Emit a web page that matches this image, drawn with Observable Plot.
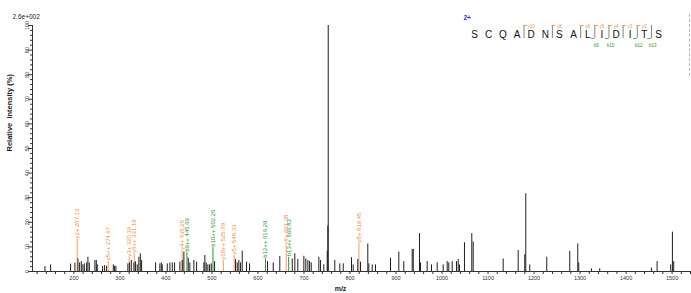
<!DOCTYPE html>
<html><head><meta charset="utf-8">
<script src="https://cdn.jsdelivr.net/npm/d3@7"></script>
<script src="https://cdn.jsdelivr.net/npm/@observablehq/plot@0.6"></script>
<style>
body{margin:0;background:#fff;}
#wrap{position:relative;width:691px;height:293px;font-family:"Liberation Sans",Arial,sans-serif;}
#seq{position:absolute;left:440px;top:0;}
#edge{position:absolute;left:689px;top:14px;height:62px;border-left:1px dashed #b5b5b5;}
svg text{white-space:pre;}
</style></head><body><div id="wrap"><div id="main"></div><div id="seq"></div><div id="edge"></div></div>
<script>
// unannotated peaks (m/z, relative intensity %)
const peakMz = [137.0,149.4,192.8,202.2,208.7,212.4,216.1,219.6,222.6,227.6,230.4,233.5,245.6,248.7,250.8,262.3,266.7,271.0,285.6,288.4,291.2,
  317.3,321.0,324.7,330.4,334.0,337.7,341.2,344.3,347.1,377.5,386.8,389.9,392.0,402.9,408.6,413.8,418.8,430.3,435.5,439.0,448.5,452.0,460.7,
  466.6,482.4,484.6,487.6,491.1,494.8,498.5,505.7,551.3,555.0,558.5,562.2,565.8,575.2,581.7,620.8,633.2,647.5,674.5,680.1,686.6,699.7,704.0,
  708.4,712.1,715.7,732.3,736.0,743.1,750.5,751.8,752.7,767.0,777.9,785.3,803.3,807.0,817.0,822.9,838.7,840.9,848.3,855.4,888.0,906.1,916.9,
  935.2,937.4,951.0,953.2,967.7,977.1,989.5,1002.5,1011.2,1014.7,1022.1,1031.4,1035.1,1037.9,1048.8,1064.7,1067.7,1132.9,1165.5,1179.8,1182.0,
  1190.7,1227.6,1277.6,1295.0,1297.1,1324.7,1342.7,1455.1,1467.4,1497.0,1500.7,1503.5];
const peakInt = [2.0,2.7,3.0,3.4,5.1,3.5,4.0,2.7,3.1,3.5,5.8,3.5,4.5,4.5,2.7,2.1,2.4,2.1,2.7,2.1,2.1,
  3.1,3.5,4.5,3.5,4.0,2.7,5.8,7.2,4.5,3.5,3.1,3.5,2.7,3.1,3.5,3.5,3.5,3.8,4.5,7.9,5.4,3.5,4.5,
  3.8,3.5,6.5,3.5,2.7,2.7,3.1,4.0,4.9,3.5,4.5,3.5,8.2,3.8,3.1,4.0,3.5,6.1,5.1,7.2,4.9,6.2,5.1,
  4.5,4.1,3.5,5.8,4.5,2.7,8.2,18.5,100,4.5,3.1,3.1,5.6,2.7,4.9,3.8,11.2,3.1,2.7,2.7,5.4,7.9,4.0,
  9.0,9.0,15.4,3.5,4.0,2.7,3.5,2.7,4.0,3.5,4.0,4.0,4.9,2.7,11.7,15.4,12.0,5.1,8.5,6.8,31.6,
  2.7,5.8,8.2,11.2,3.5,1.1,1.1,1.4,4.0,2.7,16.0,4.0];

// annotated fragment peaks
const annMz = [207.10,274.65,320.18,331.19,435.21,445.69,502.23,524.76,548.29,616.28,661.38,666.81,819.45];
const annInt = [13.0,4.2,5.6,7.2,8.4,7.6,9.7,4.4,6.5,5.2,10.6,5.8,11.4];
const annLabel = ["y2+ 207.13","y5++ 274.67","y3+ 320.19","y6++ 331.19","y4+ 435.25","b9++ 445.69","b10++ 502.26",
  "y10++ 525.79","y5+ 548.33","b12++ 616.29","y6+ 661.38","b13++ 666.83","y8+ 819.45"];
const annType = ["y","y","y","y","y","b","b","y","y","b","y","b","y"];

// axes
const xTicks = [200,300,400,500,600,700,800,900,1000,1100,1200,1300,1400,1500];
const yTicks = [0,10,20,30,40,50,60,70,80,90,100];

// peptide
const residues = ["S","C","Q","A","D","N","S","A","L","I","D","I","T","S"];
const ySites = [4,6,8,9,10,11,12];
const yNames = ["y10","y8","y6","y5","y4","y3","y2"];
const bSites = [9,10,12,13];
const bNames = ["b9","b10","b12","b13"];

const ORANGE = "#ee8a4e", GREEN = "#2f8f32";
const font = "Liberation Sans, Arial, sans-serif";

const peaks = peakMz.map((mz, i) => ({mz, int: peakInt[i]}));
const ann = annMz.map((mz, i) => ({mz, int: annInt[i], label: annLabel[i], type: annType[i]}));
const annY = ann.filter(d => d.type === "y"), annB = ann.filter(d => d.type === "b");
const xMinor = d3.range(120, 1541, 20).filter(v => v % 100 !== 0);
const yMinor = d3.range(0, 101, 2).filter(v => v % 10 !== 0);

const main = Plot.plot({
  width: 691, height: 293,
  marginLeft: 32, marginRight: 1, marginTop: 25, marginBottom: 22,
  style: {fontFamily: font, background: "white", overflow: "visible"},
  x: {domain: [110, 1540], label: null},
  y: {domain: [0, 100], label: null},
  marks: [
    Plot.ruleX(annY, {x: "mz", y1: 0, y2: "int", stroke: ORANGE, strokeWidth: 1, strokeOpacity: 0.85}),
    Plot.ruleX(annB, {x: "mz", y1: 0, y2: "int", stroke: GREEN, strokeWidth: 1}),
    Plot.ruleX(peaks, {x: "mz", y1: 0, y2: "int", stroke: "#1e1e1e", strokeWidth: 1}),
    Plot.text(annY, {x: "mz", y: "int", text: "label", rotate: -90, textAnchor: "start", lineAnchor: "middle", dy: -1, fill: ORANGE, fontSize: 6}),
    Plot.text(annB, {x: "mz", y: "int", text: "label", rotate: -90, textAnchor: "start", lineAnchor: "middle", dy: -1, fill: GREEN, fontSize: 6}),
    Plot.ruleY([0], {stroke: "#333"}),
    Plot.ruleX([110], {stroke: "#333"}),
    Plot.axisX(xTicks, {tickSize: 3, tickPadding: 2, fontSize: 5.5, tickFormat: d => String(d), stroke: "#333", fill: "#333"}),
    Plot.axisX(xMinor, {tickSize: 3, text: null, stroke: "#333"}),
    Plot.axisY(yTicks, {tickSize: 4, tickPadding: 0, tickRotate: -90, fontSize: 5.5, stroke: "#333", fill: "#333"}),
    Plot.axisY(yMinor, {tickSize: 2, text: null, stroke: "#333"}),
    Plot.text(["Relative  Intensity (%)"], {frameAnchor: "left", rotate: -90, dx: -23, dy: 3, fontWeight: "bold", fontSize: 7.5, fill: "#222"}),
    Plot.text(["m/z"], {frameAnchor: "bottom", dx: -21, dy: 19, fontWeight: "bold", fontSize: 7, fill: "#222"}),
    Plot.text(["2.6e+002"], {frameAnchor: "top-left", textAnchor: "start", dx: -20, dy: -11, fontSize: 6.5, fill: "#222"})
  ]
});
document.getElementById("main").appendChild(main);

const seq = Plot.plot({
  width: 245, height: 50, margin: 0,
  style: {fontFamily: font, background: "transparent", overflow: "visible"},
  x: {domain: [0, 13], range: [34, 218], axis: null},
  y: {domain: [0, 1], range: [38, 25], axis: null},
  marks: [
    Plot.text(["2+"], {frameAnchor: "top-left", textAnchor: "start", dx: 23, dy: 15, fill: "#2a2ad0", fontWeight: "bold", fontSize: 6.5}),
    Plot.text(residues, {x: (d, i) => i, frameAnchor: "top", dy: 30, text: d => d, fontSize: 10, fill: "#111"}),
    Plot.ruleX([...new Set([...ySites, ...bSites])], {x: d => d - 0.5, y1: 0, y2: 1, stroke: "#666", strokeWidth: 0.8}),
    Plot.ruleY(ySites, {y: 1, x1: d => d - 0.5, x2: d => d - 0.25, stroke: ORANGE, strokeWidth: 0.8}),
    Plot.ruleY(bSites, {y: 0, x1: d => d - 0.75, x2: d => d - 0.5, stroke: GREEN, strokeWidth: 0.8}),
    Plot.text(ySites, {x: d => d, frameAnchor: "top", dy: 24, text: (d, i) => yNames[i], fontSize: 4.5, fill: ORANGE}),
    Plot.text(bSites, {x: d => d - 0.4, frameAnchor: "top", dy: 43, text: (d, i) => bNames[i], fontSize: 4.5, fill: GREEN})
  ]
});
document.getElementById("seq").appendChild(seq);
</script></body></html>
